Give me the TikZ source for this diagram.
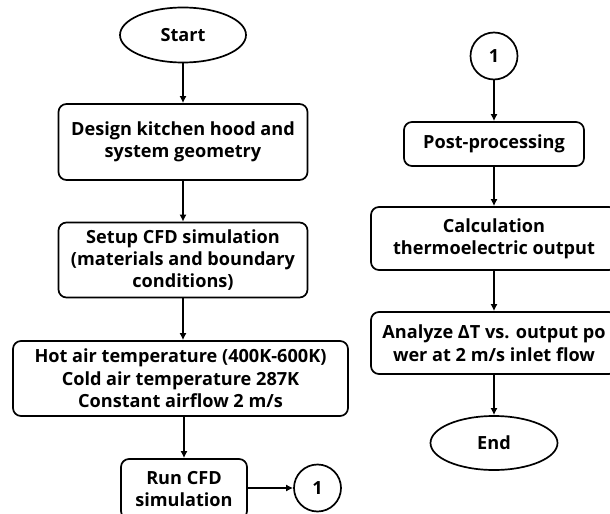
\documentclass[tikz,border=0pt]{standalone}
\usepackage{fontspec}
\setmainfont{Open Sans}
\usetikzlibrary{arrows.meta,shapes.geometric}
\begin{document}
\begin{tikzpicture}[x=1bp,y=-1bp,
  every node/.style={font=\bfseries\fontsize{18.2}{22.5}\selectfont, align=center, inner sep=0pt},
  box/.style={draw, line width=1.7bp, rounded corners=8bp},
  term/.style={draw, ellipse, line width=1.7bp, minimum width=126bp, minimum height=55bp},
  conn/.style={draw, circle, line width=1.7bp, minimum size=47bp},
  arr/.style={line width=1.7bp, -{Latex[length=7bp,width=7bp]}}
]
\useasboundingbox (0,0) rectangle (610,514);
\clip (0,0) rectangle (610,514);
\node[term] (start) at (183,35) {Start};
\node[box, minimum width=249bp, minimum height=76bp] (design) at (183,142) {Design kitchen hood and\\system geometry};
\node[box, minimum width=249bp, minimum height=75bp] (setup) at (183,260) {Setup CFD simulation\\(materials and boundary\\conditions)};
\node[box, minimum width=335bp, minimum height=75bp] (hot) at (180.5,378.5) {Hot air temperature (400K-600K)\\Cold air temperature 287K\\Constant airflow 2 m/s};
\node[box, minimum width=126bp, minimum height=60bp] (run) at (184,489) {Run CFD\\simulation};
\node[conn] (c1) at (317.5,488) {1};

\node[conn] (c2) at (494,56) {1};
\node[box, minimum width=180bp, minimum height=44bp] (post) at (494,144) {Post-processing};
\node[box, minimum width=246bp, minimum height=63bp] (calc) at (494,238.5) {Calculation\\thermoelectric output};
\node[box, minimum width=246bp, minimum height=62bp] (anal) at (494,343) {Analyze ΔT vs. output po\\wer at 2 m/s inlet flow};
\node[term, minimum width=127bp, minimum height=54bp] (end) at (494,443) {End};

\draw[arr] (start) -- (design);
\draw[arr] (design) -- (setup);
\draw[arr] (setup.south) -- (setup.south |- hot.north);
\draw[arr] (hot.south -| run.north) -- (run.north);
\draw[arr] (run.east |- c1.west) -- (c1.west);
\draw[arr] (c2) -- (post);
\draw[arr] (post) -- (calc);
\draw[arr] (calc) -- (anal);
\draw[arr] (anal) -- (end);
\end{tikzpicture}
\end{document}
